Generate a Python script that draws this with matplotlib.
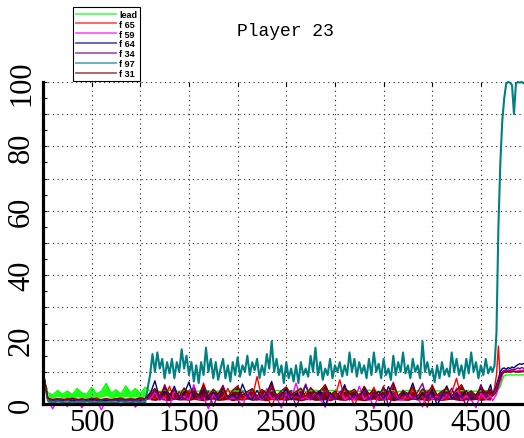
import matplotlib
matplotlib.use("Agg")
import matplotlib.pyplot as plt
from matplotlib.ticker import MultipleLocator, FuncFormatter
from matplotlib.font_manager import FontProperties

# sample times: every 50 steps, then every 20 steps near the end
steps = list(range(0, 4650, 50)) + list(range(4620, 4980, 20))
# f 97 is sampled more finely while it is noisy
f97_steps = list(range(0, 1100, 50)) + list(range(1100, 4625, 25)) + list(range(4620, 4980, 20))

lead = ([9, 3.5, 2.8, 4.2, 3.0, 4.0, 2.9, 4.8, 3.4, 3.0, 5.2, 3.1, 4.0, 6.4, 3.3, 4.4, 3.0, 5.6, 3.5, 4.8, 3.2, 5.2]
        + [4.0, 4.2, 3.9, 4.1, 4.3, 3.8, 4.0, 4.2, 4.1, 3.9, 4.0, 4.3, 4.1, 3.8, 4.0, 4.2, 3.9, 4.1,
           4.0, 4.2, 3.8, 4.1, 4.0, 4.3, 3.9, 4.1, 4.2, 4.0, 3.8, 4.1, 4.0, 4.2, 3.9, 4.1, 4.3, 4.0,
           3.9, 4.2, 4.1, 3.8, 4.0, 4.1, 4.2, 3.9, 4.0, 4.3, 4.1, 3.9, 4.0, 4.2, 4.1, 3.8, 4.0, 4.2,
           3.9, 4.1, 4.0, 4.3, 3.9, 4.1, 4.0, 4.2, 3.8, 4.0, 4.1, 4.2, 3.9, 4.0, 4.1, 4.2, 4.0]
        + [4, 4, 4.1, 4.5, 5.5, 7.5, 8.8, 9, 9, 9.1, 9, 9, 9.1, 9, 9, 9.1, 9, 9])
# lower edge of the lead's noisy band over steps 50..1050
lead_low = [2.0, 1.8, 2.3, 1.9, 2.1, 1.7, 2.2, 2.0, 1.8, 2.4, 1.9, 2.1, 2.6, 1.8, 2.2, 1.9, 2.3, 2.0, 2.2, 1.9, 2.4]

f65 = ([10, 1.6, 1.2, 1.5, 1.1, 1.8, 1.3, 1.0, 1.6, 1.2, 1.4, 1.9, 1.1, 1.5, 1.2, 1.7, 1.0, 1.4, 1.6, 1.2, 1.8, 1.3]
       + [2.5, 1.6, 3.8, 1.8, 5.5, 1.4, 2.6, 1.7, 4.2, 1.5, 2.0, 6.5, 1.6, 3.0, 1.4, 2.2, 4.8, 1.6,
          2.7, 1.3, 3.4, 1.8, 8.5, 1.6, 2.4, -0.8, 3.1, 1.8, 5.0, 1.5, 2.3, 1.7, 3.6, 1.4, 2.8, 1.6,
          4.4, 1.5, 2.1, 7.5, 1.6, 2.9, -0.5, 3.3, 1.7, 2.0, 5.2, 1.5, 2.6, 1.4, 3.9, 1.6, 2.2, 1.5,
          4.6, 1.7, 2.4, -1.0, 6.0, 1.8, 2.3, 1.5, 3.5, 8.0, 1.6, 2.8, 1.4, 3.0, 1.6, 4.0, 2.0]
       + [3, 5, 9, 18, 7, 9.5, 10, 10.2, 10, 9.8, 10.1, 10, 10.2, 9.9, 10, 10.1, 10, 10])

f59 = ([10, 1.2, -1.5, 1.4, 1.1, -0.8, 1.3, 1.6, -1.2, 1.2, 1.5, 1.1, -1.8, 1.4, 1.2, 1.6, -0.6, 1.1, 1.5, -1.0, 1.3, 1.4]
       + [1.5, 3.5, 1.2, 2.0, -1.0, 4.5, 1.4, 2.4, 1.2, 6.0, 1.3, 2.2, -1.5, 3.0, 1.4, 5.2, 1.3, 2.0,
          1.5, -0.8, 3.6, 1.3, 2.5, 1.2, 4.8, 1.6, 2.1, -1.2, 3.2, 1.3, 6.5, 1.5, 2.0, 1.2, 3.8, 1.4,
          -1.0, 2.6, 1.4, 4.0, 1.3, 2.3, 1.2, 5.5, 1.4, 2.8, -1.4, 3.1, 1.3, 2.2, 6.8, 1.3, 1.2, 3.4,
          1.7, 2.0, -0.9, 4.2, 1.4, 2.5, 1.3, 3.0, 1.5, 5.0, 1.2, 2.4, 1.3, -1.1, 3.3, 1.4, 2.6]
       + [1, 2, 3, 5, 7, 9, 10, 10.3, 10.1, 10, 10.4, 10.2, 10, 10.3, 10.5, 10.4, 10.6, 10.5])

f64 = ([10, 1.3, 1.0, 1.2, 1.1, 1.4, 1.0, 1.2, 1.3, 1.1, 1.5, 1.1, 1.2, 1.0, 1.3, 1.2, 1.1, 1.4, 1.1, 1.3, 1.2, 1.3]
       + [3.0, 7.2, 1.5, 4.0, 2.2, 5.5, 1.4, 3.2, 6.8, 1.8, 2.6, 4.5, 1.5, 3.8, 1.3, 5.0, 2.0, 3.0,
          1.4, 6.2, 2.4, 1.4, 4.2, 1.6, 3.4, 7.0, 1.4, 2.8, 4.6, 1.3, 3.2, 2.0, 5.8, 1.5, 2.6, 4.0,
          -0.6, 3.6, 1.8, 2.4, 6.0, 1.3, 3.0, 1.9, 4.8, 1.4, 2.7, 3.9, 1.6, 5.4, 2.2, 1.4, 3.5, 2.5,
          6.5, 1.4, 3.1, 1.8, 4.4, -0.4, 2.6, 5.6, 1.5, 3.3, 2.0, 4.1, 1.4, 2.9, 5.0, 2.3, 6.0]
       + [3, 4, 6, 8, 10, 11, 11.2, 10.8, 11.3, 11, 11.5, 11.2, 11.8, 12.2, 12.5, 12.3, 12.6, 12.4])

f34 = ([10, 1.4, 1.1, 1.0, 1.3, 1.2, 1.6, 1.1, 1.2, 1.5, 1.0, 1.3, 1.2, 1.5, 1.1, 1.2, 1.4, 1.0, 1.2, 1.1, 1.4, 1.2]
       + [2.0, 4.5, 1.4, 6.0, 2.5, 1.4, 3.8, 1.3, 2.9, 5.0, 1.6, 2.2, 4.0, -0.7, 3.1, 5.8, 1.5, 2.4,
          1.3, 3.9, 2.1, 4.8, 1.2, 2.7, 1.7, 5.3, 1.4, 3.4, 2.0, 4.2, -0.9, 2.5, 6.2, 1.6, 3.0, 1.3,
          4.5, 2.3, 1.4, 3.6, 5.1, 1.4, 2.6, 1.9, 4.0, 1.3, 3.2, 2.1, 5.6, -0.8, 2.8, 1.4, 4.3, 2.2,
          1.5, 3.7, 6.4, 1.2, 2.4, 1.3, 3.5, 2.0, 4.9, 1.4, 2.7, -0.6, 3.9, 1.8, 6.0, 2.5, 4.6]
       + [2.5, 4, 5, 7, 9, 10, 10.5, 10.3, 10.6, 10.4, 10.8, 10.6, 10.9, 11.2, 11.0, 11.3, 11.1, 11.2])

f97 = ([10, 1, 0.5, 0.8, 0.6, 0.5, 0.7, 0.5, 0.6, 0.8, 0.5, 0.6, 0.7, 0.5, 0.6, 0.5, 0.8, 0.6, 0.5, 0.7, 0.6, 0.5]
       + [9, 15.5, 10, 16, 11, 14, 8, 13, 9.5, 14,
          8, 13, 10, 17, 11, 15, 9, 13, 7, 12,
          6.5, 13, 9, 17.5, 10, 14, 8, 13, 7.5, 11,
          14, 8, 12, 7, 13, 9, 14.5, 8.5, 12, 10,
          15, 9, 13, 10.5, 14, 8, 12, 9, 15.5, 11,
          19.5, 10, 14, 9, 12, 6.5, 13, 8, 11, 7,
          12, 6.5, 13, 9, 11, 8.5, 15, 10, 17.5, 9,
          13, 7.5, 11, 9, 14, 8, 12, 10, 13, 8.5,
          12, 9, 16, 10, 14, 8.5, 13, 9.5, 12, 8,
          14, 9, 16, 10, 12.5, 8, 14, 9, 11, 7.5,
          15, 9, 13, 10, 16, 9.5, 12, 8, 14, 10,
          12, 8, 19.5, 10, 13, 9, 11, 6.8, 12, 8,
          13, 9, 11, 8.5, 16, 10, 14, 9, 12, 8,
          14, 9.5, 16, 10, 13, 8, 12, 9, 14, 9.5,
          11.5]
       + [10, 12, 22, 55, 75, 88, 95, 99.5, 100, 99.8, 99, 90, 99.5, 100, 99.8, 100, 99.6, 100])

f31 = ([10, 1.8, 1.4, 1.7, 1.5, 1.3, 1.8, 1.4, 1.6, 1.3, 1.9, 1.5, 1.4, 1.7, 1.4, 1.6, 1.8, 1.4, 1.6, 1.5, 1.9, 1.7]
       + [3.5, 4.8, 2.6, 5.2, 3.0, 4.4, 2.4, 5.0, 3.2, 4.1, 2.8, 5.8, 2.5, 4.6, 3.1, 5.0, 2.2, 4.3,
          5.6, 2.7, 3.9, 4.7, 2.4, 4.5, 3.3, 6.2, 2.6, 4.1, 5.3, 2.9, 3.8, 4.9, 2.3, 5.1, 3.4, 4.2,
          6.0, 2.8, 4.0, 2.5, 5.0, 3.6, 4.6, 2.3, 5.5, 3.1, 4.4, 2.7, 4.9, 3.6, 6.5, 2.5, 4.1, 3.2,
          5.4, 2.4, 4.7, 3.4, 5.6, 2.8, 4.0, 5.0, 2.5, 4.3, 6.0, 3.0, 4.1, 2.6, 5.2, 3.4, 4.5]
       + [2.5, 3, 4, 6, 8, 9.5, 10, 9.8, 10.1, 9.9, 10, 10.2, 10, 9.9, 10.1, 10, 10.2, 10.1])
# lower edge of the f 31 band over steps 1100..4600
f31_low = [1.3, 1.1, 1.4, 1.2, 1.0, 1.5, 1.2, 1.3, 1.1, 1.4, 1.2, 1.0, 1.3, 1.5, 1.1, 1.2, 1.4, 1.0,
           1.3, 1.2, 1.5, 1.1, 1.3, 1.2, 1.0, 1.4, 1.2, 1.3, 1.1, 1.5, 1.2, 1.0, 1.3, 1.4, 1.1, 1.2,
           1.3, 1.0, 1.5, 1.2, 1.1, 1.4, 1.3, 1.2, 1.0, 1.3, 1.5, 1.1, 1.2, 1.4, 1.0, 1.3, 1.2, 1.1,
           1.5, 1.2, 1.3, 1.0, 1.4, 1.2, 1.1, 1.3, 1.5, 1.2, 1.0, 1.3, 1.2, 1.4, 1.1, 1.3, 1.2]

labels = ["lead", "f 65", "f 59", "f 64", "f 34", "f 97", "f 31"]
series = [lead, f65, f59, f64, f34, f97, f31]
colors = ["#00ff00", "#ff0000", "#ff00ff", "#000080", "#800080", "#008080", "#800000"]

W, H = 524, 439
fig = plt.figure(figsize=(W / 100, H / 100), dpi=100)
ax = fig.add_axes([43 / W, 34 / H, 481 / W, 322 / H])

early = steps[1:22]      # 50 .. 1050
middle = steps[22:93]    # 1100 .. 4600

handles = []
for name, vals, col in zip(labels, series, colors):
    xs = f97_steps if name == "f 97" else steps
    if name == "lead":
        ax.fill_between(early, lead_low, vals[1:22], color=col, lw=0, alpha=0.9)
    elif name == "f 31":
        ax.fill_between(middle, f31_low, vals[22:93], color=col, lw=0)
    (ln,) = ax.plot(xs, vals, color=col, lw=1.5 if name == "f 97" else 1.0,
                    label=name, clip_on=False)
    handles.append(ln)

ax.set_xlim(0, 4943)
ax.set_ylim(0, 100)

ax.xaxis.set_major_locator(MultipleLocator(500))
ax.yaxis.set_major_locator(MultipleLocator(10))
ax.yaxis.set_minor_locator(MultipleLocator(5))
ax.xaxis.set_major_formatter(FuncFormatter(
    lambda v, p: f"{int(round(v))}" if round(v) % 1000 == 500 else ""))
ax.yaxis.set_major_formatter(FuncFormatter(
    lambda v, p: f"{int(round(v))}" if round(v) % 20 == 0 else ""))

ax.grid(True, which="major", color="0.15", linestyle=(0, (1, 3.2)), lw=0.8)

for side in ("top", "right"):
    ax.spines[side].set_visible(False)
for side in ("left", "bottom"):
    ax.spines[side].set_linewidth(2.3)
    ax.spines[side].set_zorder(5)

tick_font = FontProperties(family="Liberation Serif", size=22)
ax.tick_params(axis="both", which="both", direction="in", length=3, width=0.8,
               top=True, color="black")
ax.tick_params(axis="x", pad=3)
ax.tick_params(axis="y", pad=5)
for lab in ax.get_xticklabels():
    lab.set_fontproperties(tick_font)
for lab in ax.get_yticklabels():
    lab.set_fontproperties(tick_font)
    lab.set_rotation(90)
    lab.set_va("center")

fig.text(285 / W, 1 - 31 / H, "Player 23", family="Liberation Mono", size=13,
         ha="center", va="center")

leg = fig.legend(handles, labels, loc="upper left",
                 bbox_to_anchor=(73 / W, 1 - 8 / H), bbox_transform=fig.transFigure,
                 prop=FontProperties(family="Liberation Sans", weight="bold", size=6.5),
                 frameon=True, fancybox=False, edgecolor="black", framealpha=1,
                 borderpad=0.3, labelspacing=0.1, handlelength=4.5,
                 handletextpad=0.3, borderaxespad=0)
leg.get_frame().set_linewidth(0.8)
for lh in leg.get_lines():
    lh.set_linewidth(1.3)
    lh.set_alpha(0.65)

fig.savefig("out.png", dpi=100)
